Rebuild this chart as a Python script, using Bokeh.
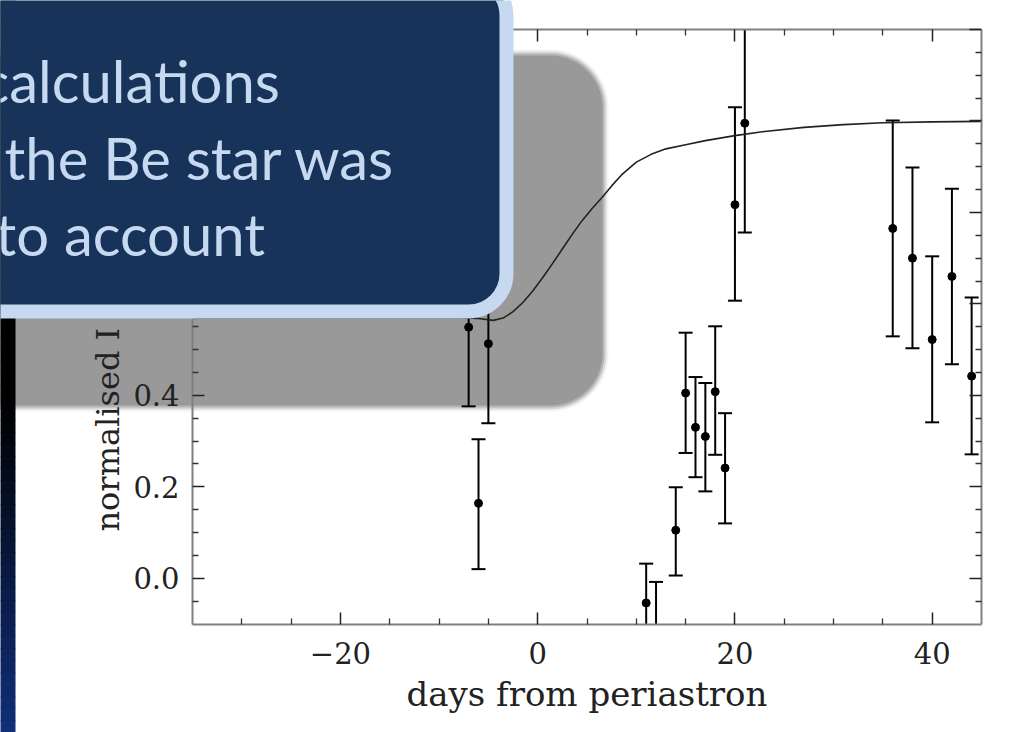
import numpy as np
from bokeh.plotting import figure
from bokeh.models import (Range1d, LinearAxis, FixedTicker, PrintfTickFormatter,
                          BoxAnnotation, Label, ColumnDataSource, CustomLabelingPolicy)
from bokeh.embed import file_html
from bokeh.resources import INLINE

# ---------------- data ----------------
days = [-7, -6, -5, 11, 12, 14, 15, 16, 17, 18, 19, 20, 21, 36, 38, 40, 42, 44]
flux = [0.549, 0.164, 0.513, -0.054, -0.125, 0.105, 0.405, 0.330, 0.310, 0.408,
        0.241, 0.817, 0.995, 0.765, 0.700, 0.522, 0.660, 0.442]
flux_upper = [0.72, 0.304, 0.69, 0.032, -0.008, 0.199, 0.537, 0.440, 0.427, 0.551,
              0.361, 1.030, 1.235, 1.001, 0.898, 0.704, 0.852, 0.614]
flux_lower = [0.376, 0.020, 0.339, -0.14, -0.24, 0.006, 0.274, 0.221, 0.190, 0.270,
              0.120, 0.607, 0.756, 0.529, 0.503, 0.341, 0.468, 0.271]

model_days = [-35, -20, -12, -8, -6, -4.5, -3.5, -2.5, -1.5, -0.5, 0.5, 1.5, 2.5,
              3.5, 4.5, 5.5, 6.5, 7.5, 8.5, 10, 11.5, 13, 15, 17, 20, 23, 27, 31,
              35, 40, 45]
model_flux = [0.57, 0.57, 0.57, 0.57, 0.568, 0.564, 0.569, 0.583, 0.603, 0.628,
              0.657, 0.688, 0.72, 0.752, 0.782, 0.808, 0.832, 0.858, 0.882, 0.91,
              0.927, 0.939, 0.948, 0.957, 0.968, 0.977, 0.986, 0.992, 0.996,
              0.998, 0.999]

x_major = [-20, 0, 20, 40]
x_minor = [-30, -25, -15, -10, -5, 5, 10, 15, 25, 30, 35]
y_major_labelled = [0.0, 0.2, 0.4]
y_major_all = [0.0, 0.2, 0.4, 0.6, 0.8, 1.0, 1.2]
y_minor = [-0.05, 0.05, 0.1, 0.15, 0.25, 0.3, 0.35, 0.45, 0.5, 0.55, 0.65, 0.7,
           0.75, 0.85, 0.9, 0.95, 1.05, 1.1, 1.15]

x_label = "days from periastron"
y_label = "normalised I"
callout_lines = ["calculations", "the Be star was", "to account"]

# ---------------- layout geometry (pixels) ----------------
W, H = 1018, 732
XMIN, XMAX = -35, 45
YMIN, YMAX = -0.1, 1.2
PX_L, PX_R, PY_T, PY_B = 192, 981, 29, 623.5
sx = (PX_R - PX_L) / (XMAX - XMIN)
sy = (PY_B - PY_T) / (YMAX - YMIN)
X0 = XMIN - PX_L / sx
X1 = X0 + W / sx
Y1 = YMAX + PY_T / sy
Y0 = Y1 - H / sy


def X(px):
    return X0 + px / sx


def Y(py):
    return Y1 - py / sy


p = figure(width=W, height=H, x_range=Range1d(X0, X1), y_range=Range1d(Y0, Y1),
           output_backend="svg", toolbar_location=None, min_border=0,
           x_axis_type=None, y_axis_type=None)
p.outline_line_color = None
p.background_fill_color = "white"
p.border_fill_color = "white"

# ---------------- grey shadow panel ----------------
for e, a in [(4, 0.12), (2, 0.3), (0, 0.55), (-2, 1.0)]:
    p.add_layout(BoxAnnotation(left=X(-60), right=X(604 + e), top=Y(53 - e),
                               bottom=Y(407 + e), border_radius=54 + e,
                               fill_color="#999999", fill_alpha=a,
                               line_color=None, level="underlay"))

# ---------------- data glyphs ----------------
up = np.minimum(np.array(flux_upper), YMAX)
lo = np.maximum(np.array(flux_lower), YMIN)
src = ColumnDataSource(dict(x=days, y=flux, up=up, lo=lo))
p.segment(x0="x", y0="lo", x1="x", y1="up", source=src, line_color="black",
          line_width=2)

cap_x = [d for d, u in zip(days, flux_upper) if YMIN <= u <= YMAX] + \
        [d for d, l in zip(days, flux_lower) if YMIN <= l <= YMAX]
cap_y = [u for u in flux_upper if YMIN <= u <= YMAX] + \
        [l for l in flux_lower if YMIN <= l <= YMAX]
p.scatter(cap_x, cap_y, marker="dash", size=14, line_color="black", line_width=2)

pt_x = [d for d, f in zip(days, flux) if YMIN <= f <= YMAX]
pt_y = [f for f in flux if YMIN <= f <= YMAX]
p.scatter(pt_x, pt_y, marker="circle", size=8, fill_color="black", line_color="black")

p.line(model_days, model_flux, line_color="#222222", line_width=1.6)

# ---------------- axes ----------------
tick_font = "DejaVu Serif"
no_labels = CustomLabelingPolicy(code="return []")


def style_axis(ax):
    ax.axis_line_color = "#808080"
    ax.axis_line_width = 2
    ax.major_tick_in = 12
    ax.major_tick_out = 0
    ax.minor_tick_in = 6
    ax.minor_tick_out = 0
    ax.major_tick_line_color = "#222222"
    ax.major_tick_line_width = 1.5
    ax.minor_tick_line_color = "#333333"
    ax.minor_tick_line_width = 1.3
    ax.major_label_text_font = tick_font
    ax.major_label_text_font_size = "29px"
    ax.major_label_text_color = "#222222"


bottom = LinearAxis(fixed_location=YMIN, bounds=(XMIN, XMAX),
                    ticker=FixedTicker(ticks=x_major, minor_ticks=x_minor),
                    major_label_overrides={-20: "\u221220"})
style_axis(bottom)
bottom.major_label_standoff = 18
bottom.axis_label = x_label
bottom.axis_label_text_font = tick_font
bottom.axis_label_text_font_style = "normal"
bottom.axis_label_text_font_size = "34px"
bottom.axis_label_text_color = "#222222"
bottom.axis_label_standoff = 6
p.add_layout(bottom, "below")

top = LinearAxis(fixed_location=YMAX, bounds=(XMIN, XMAX),
                 ticker=FixedTicker(ticks=x_major, minor_ticks=x_minor),
                 major_label_policy=no_labels)
style_axis(top)
p.add_layout(top, "above")

left = LinearAxis(fixed_location=XMIN, bounds=(YMIN, YMAX),
                  ticker=FixedTicker(ticks=y_major_labelled,
                                     minor_ticks=y_minor + [0.6, 0.8, 1.0]),
                  formatter=PrintfTickFormatter(format="%.1f"))
style_axis(left)
left.major_label_standoff = 13
p.add_layout(left, "left")

right = LinearAxis(fixed_location=XMAX, bounds=(YMIN, YMAX),
                   ticker=FixedTicker(ticks=y_major_all, minor_ticks=y_minor),
                   major_label_policy=no_labels)
style_axis(right)
p.add_layout(right, "right")

p.add_layout(Label(x=X(107), y=Y(531), text=y_label, angle=np.pi / 2,
                   text_font=tick_font, text_font_size="32px",
                   text_color="#222222", text_align="left",
                   text_baseline="alphabetic", level="glyph"))

# ---------------- left slide strip (gradient) ----------------
n = 61
edges = np.linspace(0, H, n + 1)
for i in range(n):
    mid = 0.5 * (edges[i] + edges[i + 1])
    t = min(max((mid - 400) / 332.0, 0.0), 1.0)
    col = "#%02x%02x%02x" % (int(17 * t), int(48 * t), int(122 * t))
    p.add_layout(BoxAnnotation(left=X(-5), right=X(15), top=Y(edges[i]),
                               bottom=Y(edges[i + 1] + 0.6), fill_color=col,
                               fill_alpha=1.0, line_color=None, level="annotation"))

# ---------------- callout ----------------
p.add_layout(BoxAnnotation(left=X(-80), right=X(506), top=Y(-23), bottom=Y(311),
                           fill_color="#17335a", fill_alpha=1.0,
                           line_color="#c6d9f1", line_width=14, line_alpha=1.0,
                           border_radius=38, level="overlay"))

for txt, px, py in zip(callout_lines, [-19, 4, -5], [80, 157, 233]):
    p.add_layout(Label(x=X(px), y=Y(py), text=txt, text_font="Lato",
                       text_font_size="58px", text_color="#c6d9f1",
                       text_align="left", text_baseline="alphabetic",
                       level="overlay"))

open("out.html", "w").write(file_html(p, INLINE))
